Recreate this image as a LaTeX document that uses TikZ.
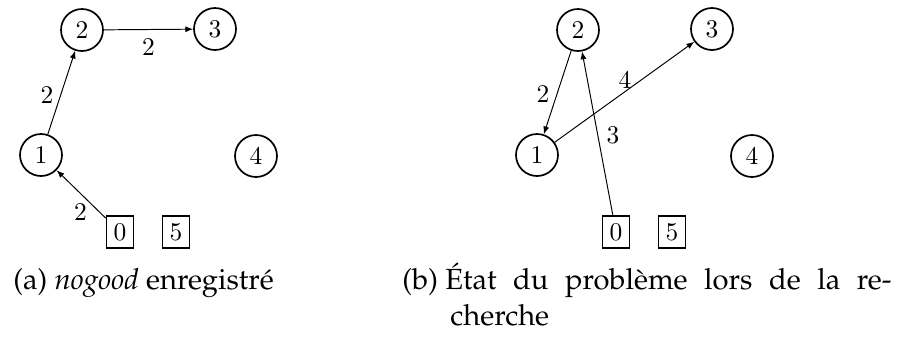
\documentclass[tikz,border=0pt]{standalone}
\usepackage[T1,TU]{fontenc}
\usetikzlibrary{arrows.meta}
\newcommand{\capfont}{\fontencoding{T1}\fontfamily{ppl}\fontsize{12}{15.2}\selectfont}
\newcommand{\nodefont}{\fontsize{10.5}{12.5}\selectfont}
\begin{document}
\begin{tikzpicture}[x=0.412pt,y=-0.412pt,
  state/.style={circle,draw,line width=0.7pt,inner sep=2.93pt,minimum size=17.3pt,font=\nodefont},
  box/.style={rectangle,draw,line width=0.6pt,inner sep=2.93pt,font=\nodefont},
  arc/.style={-{Latex[length=3.2pt,width=2.5pt]},line width=0.4pt},
  lbl/.style={font=\nodefont,inner sep=0pt},
  captext/.style={anchor=base west,inner sep=0pt,font=\capfont}]
\useasboundingbox (0,0) rectangle (898,338);
% ---- (a)
\node[state] (a1) at (41,155) {1};
\node[state] (a2) at (82,30) {2};
\node[state] (a3) at (215,29) {3};
\node[state] (a4) at (256,156) {4};
\node[box] (a0) at (120,232) {0};
\node[box] (a5) at (176,232) {5};
\draw[arc] (a0) -- node[lbl,pos=0.33,shift={(-9,9.3)}] {2} (a1);
\draw[arc] (a1) -- node[lbl,pos=0.42,shift={(-12.3,-4.1)}] {2} (a2);
\draw[arc] (a2) -- node[lbl,pos=0.5,shift={(0,17.5)}] {2} (a3);
% ---- (b)
\node[state] (b1) at (537,155) {1};
\node[state] (b2) at (578,30) {2};
\node[state] (b3) at (712,29) {3};
\node[state] (b4) at (752,156) {4};
\node[box] (b0) at (616,232) {0};
\node[box] (b5) at (672,232) {5};
\draw[arc] (b2) -- node[lbl,pos=0.566,shift={(-12.7,-4.2)}] {2} (b1);
\draw[arc] (b1) -- node[lbl,pos=0.543,shift={(-5.5,-7.6)}] {4} (b3);
\draw[arc] (b0) -- node[lbl,pos=0.47,shift={(14.6,-2.7)}] {3} (b2);
% ---- captions
\node[captext] (capa) at (13,289) {(a) \textit{nogood} enregistr\'e};
\node[captext] (capb) at (402,289) {\hbox to 201.5pt{(b) \'Etat\hfill du\hfill probl\`eme\hfill lors\hfill de\hfill la\hfill re-}};
\node[captext] (capb2) at (450,325) {cherche};
\end{tikzpicture}
\end{document}
